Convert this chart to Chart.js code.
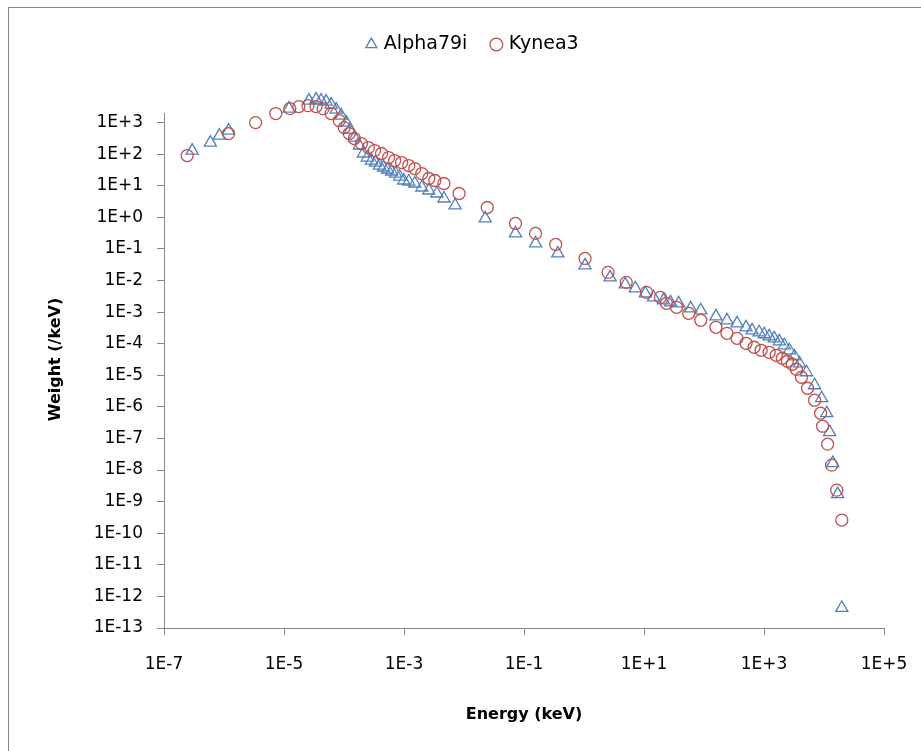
<!DOCTYPE html>
<html>
<head>
<meta charset="utf-8">
<script src="https://cdn.jsdelivr.net/npm/chart.js@4.4.1/dist/chart.umd.min.js"></script>
<style>
    body { margin: 0; background: #fff; overflow: hidden; }
    .frame { position: absolute; left: 8px; top: 7px; width: 1000px; height: 1000px; border: 1px solid #868686; }
    #chart { position: absolute; left: 0; top: 0; }
</style>
</head>
<body>
<div class="frame"></div>
<canvas id="chart" width="921" height="751"></canvas>
<script>
// Data
const alphaEnergy = [2.95e-7, 5.92e-7, 8.37e-7, 1.19e-6, 1.21e-5, 2.61e-5, 3.42e-5, 4.15e-5, 5.04e-5, 6.11e-5,
    7.41e-5, 8.99e-5, 1.09e-4, 1.27e-4, 1.49e-4, 1.80e-4, 2.10e-4, 2.45e-4, 2.87e-4, 3.35e-4,
    3.91e-4, 4.56e-4, 5.32e-4, 6.21e-4, 7.24e-4, 8.45e-4, 9.89e-4, 1.20e-3, 1.51e-3, 1.98e-3,
    2.59e-3, 3.53e-3, 4.63e-3, 7.10e-3, 2.26e-2, 7.21e-2, 0.156, 0.366, 1.04, 2.72,
    4.86, 7.16, 10.5, 14.4, 21.1, 27.7, 37.8, 60.0, 88.3, 158,
    241, 355, 502, 634, 830, 1010, 1220, 1480, 1800, 2180,
    2650, 3210, 3900, 5110, 6970, 9120, 11100, 12400, 14000, 16900, 19800];
const alphaWeight = [130, 233, 388, 558, 2770, 4960, 5340, 4960, 4610, 3710,
    2580, 1660, 1000, 601, 336, 188, 105, 78.2, 62.9, 54.3,
    43.7, 37.8, 32.7, 28.3, 24.4, 19.6, 14.7, 13.6, 11.8, 8.81,
    7.08, 5.69, 3.95, 2.38, 0.923, 0.310, 0.150, 0.0722, 0.0301, 0.0126,
    7.56e-3, 5.65e-3, 3.92e-3, 2.93e-3, 2.36e-3, 2.04e-3, 1.90e-3, 1.32e-3, 1.14e-3, 7.36e-4,
    5.50e-4, 4.42e-4, 3.30e-4, 2.65e-4, 2.30e-4, 1.99e-4, 1.71e-4, 1.48e-4, 1.19e-4, 8.91e-5,
    6.19e-5, 4.00e-5, 2.40e-5, 1.25e-5, 4.84e-6, 1.88e-6, 6.31e-7, 1.58e-7, 1.66e-8, 1.73e-9, 4.32e-13];

const kyneaEnergy = [2.43e-7, 1.19e-6, 3.36e-6, 7.29e-6, 1.25e-5, 1.77e-5, 2.51e-5, 3.42e-5, 4.49e-5, 6.11e-5,
    8.32e-5, 1.01e-4, 1.22e-4, 1.49e-4, 1.95e-4, 2.55e-4, 3.22e-4, 4.22e-4, 5.53e-4, 6.98e-4,
    9.14e-4, 1.20e-3, 1.51e-3, 1.98e-3, 2.59e-3, 3.27e-3, 4.63e-3, 8.28e-3, 2.44e-2, 7.21e-2,
    0.156, 0.338, 1.04, 2.52, 5.06, 11.0, 18.8, 23.7, 34.9, 55.5,
    88.3, 158, 241, 355, 502, 684, 897, 1220, 1600, 2020,
    2450, 2970, 3470, 4210, 5310, 6970, 8770, 9480, 11500, 13400, 16300, 19800];
const kyneaWeight = [90.5, 449, 1000, 1930, 2770, 3210, 3450, 3210, 2770, 1930,
    1160, 695, 449, 312, 217, 162, 130, 105, 78.2, 62.9,
    54.3, 43.7, 35.1, 24.4, 17.0, 14.7, 11.8, 5.69, 2.05, 0.641,
    0.310, 0.139, 0.0501, 0.0181, 8.75e-3, 4.22e-3, 2.93e-3, 1.90e-3, 1.42e-3, 9.15e-4,
    5.50e-4, 3.30e-4, 2.13e-4, 1.48e-4, 1.03e-4, 7.71e-5, 6.19e-5, 5.35e-5, 4.30e-5, 3.46e-5,
    2.78e-5, 2.24e-5, 1.55e-5, 8.67e-6, 3.89e-6, 1.63e-6, 6.31e-7, 2.45e-7, 6.60e-8, 1.43e-8, 2.32e-9, 2.61e-10];

const xTickValues = [1e-7, 1e-5, 1e-3, 1e-1, 1e1, 1e3, 1e5];
const xTickLabels = ["1E-7", "1E-5", "1E-3", "1E-1", "1E+1", "1E+3", "1E+5"];
const yTickValues = [1e-13, 1e-12, 1e-11, 1e-10, 1e-9, 1e-8, 1e-7, 1e-6, 1e-5, 1e-4, 1e-3, 1e-2, 1e-1, 1e0, 1e1, 1e2, 1e3];
const yTickLabels = ["1E-13", "1E-12", "1E-11", "1E-10", "1E-9", "1E-8", "1E-7", "1E-6", "1E-5", "1E-4",
    "1E-3", "1E-2", "1E-1", "1E+0", "1E+1", "1E+2", "1E+3"];
const yAxisTop = 2000;   // where the value axis line stops

const toPoints = (xs, ys) => xs.map((x, i) => ({ x, y: ys[i] }));
const axisColor = "#868686";
const tickFont = { family: "'DejaVu Sans', sans-serif", size: 17 };
const titleFont = { family: "'DejaVu Sans', sans-serif", size: 16, weight: "bold" };

// gap between legend and plot
const legendGap = {
    id: "legendGap",
    beforeInit(chart) {
        const fit = chart.legend.fit;
        chart.legend.fit = function () {
            fit.call(this);
            this.height += 27;
        };
    }
};

// value axis line, shorter than the plot so the peak markers sit above it
const yAxisLine = {
    id: "yAxisLine",
    beforeDatasetsDraw(chart) {
        const { ctx, chartArea, scales: { y } } = chart;
        const x = Math.round(chartArea.left) + 0.5;
        ctx.save();
        ctx.strokeStyle = axisColor;
        ctx.lineWidth = 1;
        ctx.beginPath();
        ctx.moveTo(x, y.getPixelForValue(yAxisTop));
        ctx.lineTo(x, chartArea.bottom);
        ctx.stroke();
        ctx.restore();
    }
};

new Chart(document.getElementById("chart"), {
    type: "scatter",
    data: {
        datasets: [
            {
                label: "Alpha79i", data: toPoints(alphaEnergy, alphaWeight), order: 1,
                pointStyle: "triangle", pointRadius: 7, borderWidth: 1.3,
                borderColor: "#4F81BD", backgroundColor: "rgba(0,0,0,0)"
            },
            {
                label: "Kynea3", data: toPoints(kyneaEnergy, kyneaWeight), order: 0,
                pointStyle: "circle", pointRadius: 6, borderWidth: 1.3,
                borderColor: "#C0504D", backgroundColor: "rgba(0,0,0,0)"
            }
        ]
    },
    options: {
        responsive: false, animation: false,
        layout: { padding: { left: 31, right: 5, top: 9, bottom: 20 } },
        plugins: {
            tooltip: { enabled: false },
            legend: {
                position: "top",
                labels: {
                    usePointStyle: true, boxWidth: 6, boxHeight: 9, padding: 26,
                    color: "#000", font: { family: "'DejaVu Sans', sans-serif", size: 19 },
                    sort: (a, b) => a.datasetIndex - b.datasetIndex
                }
            }
        },
        scales: {
            x: {
                type: "logarithmic", min: 1e-7, max: 1e5,
                afterBuildTicks: s => { s.ticks = xTickValues.map(v => ({ value: v })); },
                afterFit: s => { s.height = 103; s.paddingRight = 37; },
                ticks: { color: "#000", font: tickFont, padding: 19, maxRotation: 0,
                    callback: v => xTickLabels[xTickValues.indexOf(v)] },
                grid: { drawOnChartArea: false, color: axisColor, tickLength: 7 },
                border: { color: axisColor },
                title: { display: true, text: "Energy (keV)", color: "#000", font: titleFont, padding: { bottom: 7 } }
            },
            y: {
                type: "logarithmic", min: 1e-13, max: 1e4,
                afterBuildTicks: s => { s.ticks = yTickValues.map(v => ({ value: v })); },
                afterFit: s => { s.width = 133; },
                ticks: { color: "#000", font: tickFont, padding: 14,
                    callback: v => yTickLabels[yTickValues.indexOf(v)] },
                grid: { drawOnChartArea: false, color: axisColor, tickLength: 7 },
                border: { display: false },
                title: { display: true, text: "Weight (/keV)", color: "#000", font: titleFont, padding: { top: 15 } }
            }
        }
    },
    plugins: [legendGap, yAxisLine]
});
</script>
</body>
</html>
